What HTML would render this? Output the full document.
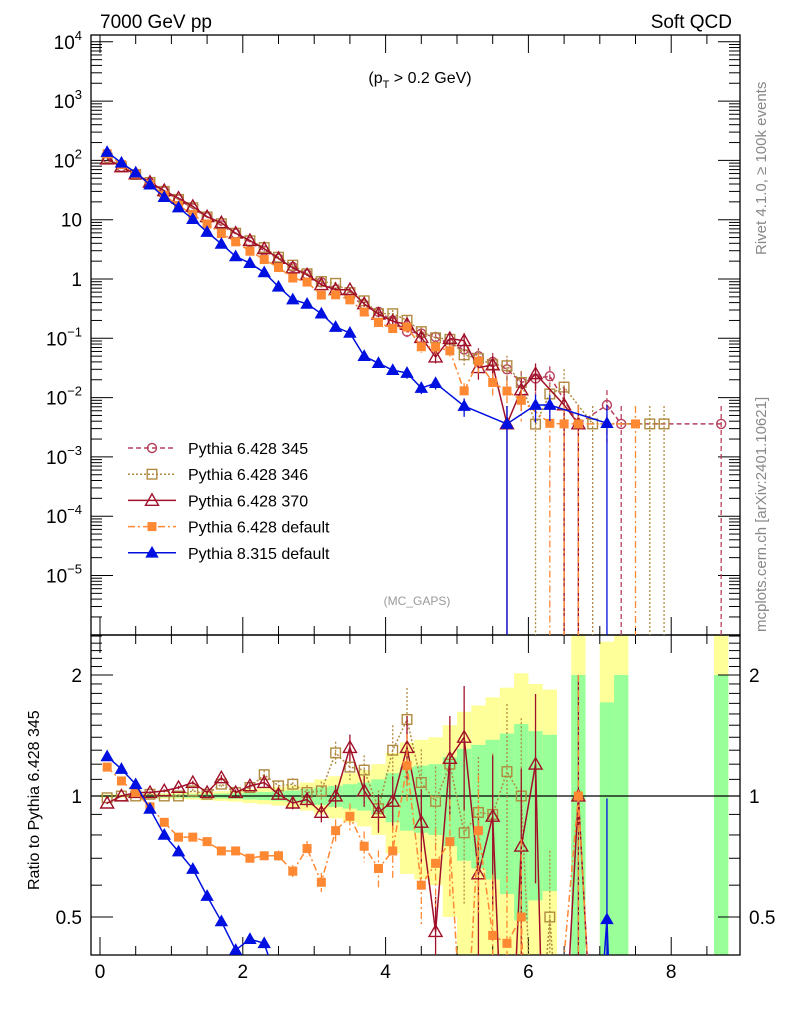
<!DOCTYPE html>
<html><head><meta charset="utf-8"><style>
html,body{margin:0;padding:0;background:#fff;overflow:hidden;width:786px;height:1024px}
svg{display:block;font-family:"Liberation Sans",sans-serif}
</style></head><body>
<svg id="chart" width="786" height="1024" viewBox="0 0 786 1024" xmlns="http://www.w3.org/2000/svg">
<defs>
<clipPath id="cm"><rect x="91" y="35" width="649" height="600"/></clipPath>
<clipPath id="cr"><rect x="91" y="635" width="649" height="320"/></clipPath>
</defs>
<g id="bands" clip-path="url(#cr)"></g>
<g id="grid"></g>
<g id="mainS" clip-path="url(#cm)"></g>
<g id="ratS" clip-path="url(#cr)"></g>
<text x="100" y="28" font-size="19">7000 GeV pp</text>
<text x="732" y="28" font-size="19" text-anchor="end">Soft QCD</text>
<text x="420" y="83" font-size="16" text-anchor="middle">(p<tspan font-size="11" dy="5">T</tspan><tspan dy="-5"> &gt; 0.2 GeV)</tspan></text>
<text x="417" y="605" font-size="12" fill="#999" text-anchor="middle">(MC_GAPS)</text>
<text transform="translate(766,255) rotate(-90)" font-size="15" fill="#888">Rivet 4.1.0, ≥ 100k events</text>
<text transform="translate(766,632) rotate(-90)" font-size="15" fill="#888">mcplots.cern.ch [arXiv:2401.10621]</text>
<text transform="translate(39,890) rotate(-90)" font-size="16">Ratio to Pythia 6.428 345</text>
<g id="legend"></g>
</svg>
<script>
const xs=[0.1,0.3,0.5,0.7,0.9,1.1,1.3,1.5,1.7,1.9,2.1,2.3,2.5,2.7,2.9,3.1,3.3,3.5,3.7,3.9,4.1,4.3,4.5,4.7,4.9,5.1,5.3,5.5,5.7,5.9,6.1,6.3,6.5,6.7,6.9,7.1,7.3,7.5,7.7,7.9,8.1,8.3,8.5,8.7];
const ref345=[110,78,58,42,30,22,15.5,11,8,5.8,4.2,3.0,2.2,1.6,1.2,0.88,0.66,0.5,0.37,0.28,0.2,0.13,0.12,0.105,0.08,0.065,0.05,0.04,0.03,0.018,0.021,0.023,0.016,0.0036,0.0036,0.0075,0.0036,0.0036,0.0036,0.0036,0.0036,0.0036,0.0036,0.0036];
const refErr=[0.005,0.005,0.006,0.007,0.008,0.009,0.01,0.012,0.014,0.016,0.02,0.023,0.027,0.032,0.04,0.05,0.06,0.07,0.08,0.1,0.14,0.18,0.19,0.2,0.25,0.31,0.34,0.38,0.43,0.51,0.45,0.42,null,1,null,0.71,1,null,null,null,null,null,null,1];
const ratio346=[0.99,1.0,1.0,1.01,1.0,1.0,1.03,1.01,1.07,1.02,1.05,1.13,1.06,1.07,1.02,1.03,1.28,1.18,1.16,0.93,1.30,1.55,1.08,0.97,1.2,0.81,0.91,0.90,1.15,1.0,0.17,0.50,0.94,0,1,0,0,0,1,1,0,0,0,0];
const ratio370=[0.96,1.0,1.02,1.02,1.03,1.05,1.08,1.02,1.11,1.02,1.06,1.08,1.01,0.96,0.98,0.91,1.0,1.32,1.03,0.91,0.97,1.32,0.86,0.46,1.24,1.40,0.64,0.89,0.12,0.75,1.20,0,0.47,1.0,0,0,0,0,0,0,0,0,0,0];
const ratioDef6=[1.18,1.09,1.02,0.94,0.86,0.79,0.79,0.77,0.73,0.73,0.70,0.71,0.71,0.65,0.74,0.61,0.82,0.89,0.75,0.66,0.73,1.19,0.60,0.68,0.77,0.2,0.82,0.45,0.43,0.50,0,0.16,0.225,1.0,0,0,0,1,0,0,0,0,0,0];
const py8=[138,91,62,39,24,16,10.2,6.2,3.9,2.4,1.85,1.29,0.74,0.45,0.38,0.26,0.155,0.123,0.05,0.038,0.029,0.026,0.0145,0.0175,0,0.0072,0,0,0.0036,0,0.0075,0.0075,0,0,0,0.0037,0,0,0,0,0,0,0,0];
const mainTicks=["10^-5","10^-4","10^-3","10^-2","10^-1","1","10","10^2","10^3","10^4"];
const xTicks=[0,2,4,6,8];
const ratioTicks=[0.5,1,2];

const NS="http://www.w3.org/2000/svg";
const X=v=>100+71.4*v;
const YM=v=>279-59.3*Math.log10(v);
const YR=r=>796-121*Math.log2(Math.max(r,0.05));
const YB=r=>Math.min(955,Math.max(635,YR(r)));
function el(p,t,a){const e=document.createElementNS(NS,t);for(const k in a)e.setAttribute(k,a[k]);p.appendChild(e);return e;}
const g=document.getElementById('grid'),bands=document.getElementById('bands'),mainS=document.getElementById('mainS'),ratS=document.getElementById('ratS'),leg=document.getElementById('legend');

xs.forEach((x,i)=>{const e=refErr[i];if(e===null)return;
 const top2=YB(1+2*e),top1=YB(1+e);
 const y1=el(bands,'rect',{x:X(x-0.1),width:X(x+0.1)-X(x-0.1),y:top2,height:YB(Math.max(1-2*e,0.05))-top2,fill:'#ffff99'});
 
 
 const g1=el(bands,'rect',{x:X(x-0.1),width:X(x+0.1)-X(x-0.1),y:top1,height:YB(Math.max(1-e,0.05))-top1,fill:'#99ff99'});
 
 
});
const ul=el(g,'line',{x1:91,x2:740,y1:YR(1),y2:YR(1),stroke:'#000','stroke-width':1.3});



const f1=el(g,'rect',{x:91,y:35,width:649,height:600,fill:'none',stroke:'#000','stroke-width':1.3});


const f2=el(g,'rect',{x:91,y:635,width:649,height:320,fill:'none',stroke:'#000','stroke-width':1.3});



mainTicks.forEach(t=>{const p=t.split('^');const ex=t==='1'?0:t==='10'?1:parseInt(p[1]);const y=279-59.3*ex;
 el(g,'line',{x1:91,x2:113,y1:y,y2:y,stroke:'#000'});el(g,'line',{x1:740,x2:718,y1:y,y2:y,stroke:'#000'});
 const tx=el(g,'text',{x:82,y:y+7,'font-size':19,'text-anchor':'end'});
 
 
 if(p.length>1){tx.textContent='10';const s=el(tx,'tspan',{dy:-9,'font-size':13});s.textContent=p[1].replace('-','−');}
 else tx.textContent=t;
 for(let m=2;m<=9;m++){const ym=y-59.3*Math.log10(m);if(ym<35)continue;
  el(g,'line',{x1:91,x2:102,y1:ym,y2:ym,stroke:'#000'});el(g,'line',{x1:740,x2:729,y1:ym,y2:ym,stroke:'#000'});}
});
for(let m=2;m<=9;m++){const ym=279+59.3*6-59.3*Math.log10(m);if(ym<=635&&ym>575){el(g,'line',{x1:91,x2:102,y1:ym,y2:ym,stroke:'#000'});el(g,'line',{x1:740,x2:729,y1:ym,y2:ym,stroke:'#000'});}}
for(let v=0;v<=8.9;v+=0.5){const x=X(v);const maj=Math.abs(v%2)<1e-6;const L=maj?18:9;
 [[635,-1],[955,-1],[35,1],[635,1]].forEach(([y,d])=>el(g,'line',{x1:x,x2:x,y1:y,y2:y+d*L,stroke:'#000'}));}
xTicks.forEach(v=>{const t=el(g,'text',{x:X(v),y:978,'font-size':19,'text-anchor':'middle'});t.textContent=v;
 
 });
for(let r=0.4;r<=2.5001;r+=0.1){const y=796-121*Math.log2(r);if(y<635||y>955)continue;
 const maj=ratioTicks.some(t=>Math.abs(t-r)<1e-6);const L=maj?22:11;
 el(g,'line',{x1:91,x2:91+L,y1:y,y2:y,stroke:'#000'});el(g,'line',{x1:740,x2:740-L,y1:y,y2:y,stroke:'#000'});}
ratioTicks.forEach(r=>{const y=YR(r);
 const a=el(g,'text',{x:82,y:y+7,'font-size':19,'text-anchor':'end'});a.textContent=r;
 
 
 const b=el(g,'text',{x:749,y:y+7,'font-size':19});b.textContent=r;
 
 });

const series=[
 {name:'Pythia 6.428 345',key:'p345',col:'#b8405e',dash:'5,3',mk:'circle',fill:false,val:i=>ref345[i]},
 {name:'Pythia 6.428 346',key:'p346',col:'#b08a40',dash:'2,2',mk:'square',fill:false,val:i=>ref345[i]*ratio346[i]},
 {name:'Pythia 6.428 370',key:'p370',col:'#a01028',dash:'',mk:'tri',fill:false,val:i=>ref345[i]*ratio370[i]},
 {name:'Pythia 6.428 default',key:'p6def',col:'#ff8833',dash:'7,3,2,3',mk:'square',fill:true,val:i=>ref345[i]*ratioDef6[i]},
 {name:'Pythia 8.315 default',key:'p8def',col:'#0010e0',dash:'',mk:'tri',fill:true,val:i=>py8[i]}
];
function marker(p,s,x,y){const c=s.col,sw=1.4;let m;
 if(s.mk==='circle')m=el(p,'circle',{cx:x,cy:y,r:4.5,fill:'none',stroke:c,'stroke-width':sw});
 else if(s.mk==='square'){const h=s.fill?3.8:4.8;m=el(p,'rect',{x:x-h,y:y-h,width:2*h,height:2*h,fill:s.fill?c:'none',stroke:c,'stroke-width':sw});}
 else{const h=s.fill?5.5:6.5;m=el(p,'polygon',{points:`${x},${y-h} ${x-h},${y+h*0.75} ${x+h},${y+h*0.75}`,fill:s.fill?c:'none',stroke:c,'stroke-width':sw});}
 return m;}
const showRef=i=>refErr[i]!==null;
series.forEach((s,si)=>{
 const pts=[];xs.forEach((x,i)=>{let v=s.val(i);if(si===0&&!showRef(i))v=0;if(v>0)pts.push([i,X(x),YM(v),v]);});
 const pl=el(mainS,'polyline',{points:pts.map(p=>p[1]+','+p[2]).join(' '),fill:'none',stroke:s.col,'stroke-width':1.5,'stroke-dasharray':s.dash});
 
 
 pts.forEach(([i,x,y,v])=>{const e=refErr[i]===null?1:refErr[i]*1.1;const single=v<=0.0038;
  const yt=YM(v*(1+(single?1:e))),yb=single||e>=0.95?635:Math.min(635,YM(v*(1-e)));
  el(mainS,'line',{x1:x,x2:x,y1:yt,y2:yb,stroke:s.col,'stroke-width':1.3,'stroke-dasharray':s.dash});
  const m=marker(mainS,s,x,y);
  
  });
 if(si===0)return;
 const rp=[];xs.forEach((x,i)=>{if(refErr[i]===null)return;const v=s.val(i);rp.push([i,X(x),YR(v/ref345[i]),v/ref345[i],v]);});
 const rl=el(ratS,'polyline',{points:rp.map(p=>p[1]+','+p[2]).join(' '),fill:'none',stroke:s.col,'stroke-width':1.5,'stroke-dasharray':s.dash});
 
 
 rp.forEach(([i,x,y,r,v])=>{if(r<=0.38)return;const e=refErr[i]*1.1;const single=v<=0.0038;
  el(ratS,'line',{x1:x,x2:x,y1:Math.max(635,YR(r*(1+(single?1:e)))),y2:single||e>=0.95?955:Math.min(955,YR(r*(1-e))),stroke:s.col,'stroke-width':1.3,'stroke-dasharray':s.dash});
  const m=marker(ratS,s,x,y);
  
  });
});
series.forEach((s,k)=>{const y=448+26.2*k;
 const gl=el(leg,'g',{});
 
 
 el(gl,'line',{x1:128,x2:176,y1:y,y2:y,stroke:s.col,'stroke-width':1.5,'stroke-dasharray':s.dash});
 marker(gl,s,152,y);
 const t=el(gl,'text',{x:188,y:y+6,'font-size':16});t.textContent=s.name;});
</script>
</body></html>
